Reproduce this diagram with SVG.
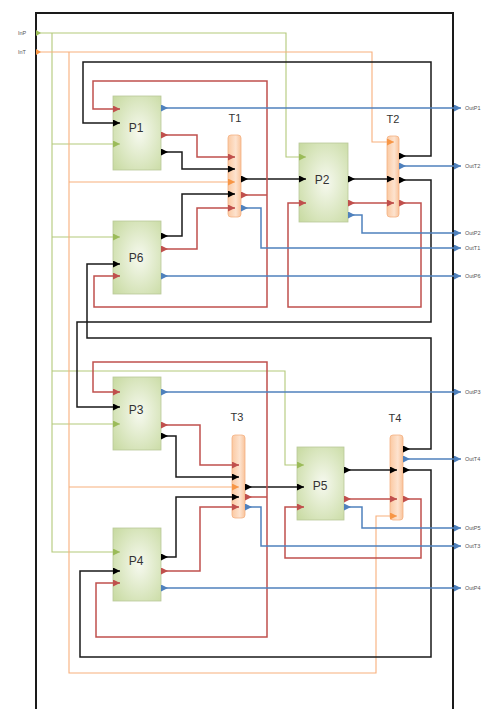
<svg xmlns="http://www.w3.org/2000/svg" width="485" height="709" viewBox="0 0 485 709">
<style>
.ln{fill:none;stroke-width:1.5}
.k{stroke:#1a1a1a}
.r{stroke:#c0504d}
.b{stroke:#4f81bd}
.g{stroke:#b3c97a;stroke-width:1.1}
.o{stroke:#f8b07c;stroke-width:1.1}
.box{fill:url(#pg);stroke:#b9c99a;stroke-width:0.8}
.bar{fill:url(#tg);stroke:#f4b183;stroke-width:0.8}
.lbl{font-family:"Liberation Sans",Arial,sans-serif;font-size:12px;fill:#333;text-anchor:middle}
.tl{font-family:"Liberation Sans",Arial,sans-serif;font-size:11px;fill:#333;text-anchor:middle}
.io{font-family:"Liberation Sans",Arial,sans-serif;font-size:5.5px;fill:#555}
</style>
<defs>
<radialGradient id="pg" cx="0.55" cy="0.5" r="0.75">
<stop offset="0" stop-color="#f6f9ef"/>
<stop offset="1" stop-color="#c6d99e"/>
</radialGradient>
<linearGradient id="tg" x1="0" y1="0" x2="1" y2="0">
<stop offset="0" stop-color="#fbc9a2"/>
<stop offset="0.6" stop-color="#fde3cf"/>
<stop offset="1" stop-color="#f9c39a"/>
</linearGradient>
<marker id="ek" markerUnits="userSpaceOnUse" markerWidth="8" markerHeight="8" refX="7" refY="3.5" orient="auto"><path d="M0,0L7,3.5L0,7z" fill="#000"/></marker>
<marker id="sk" markerUnits="userSpaceOnUse" markerWidth="8" markerHeight="8" refX="0" refY="3.5" orient="auto"><path d="M0,0L7,3.5L0,7z" fill="#000"/></marker>
<marker id="er" markerUnits="userSpaceOnUse" markerWidth="8" markerHeight="8" refX="7" refY="3.5" orient="auto"><path d="M0,0L7,3.5L0,7z" fill="#c0504d"/></marker>
<marker id="sr" markerUnits="userSpaceOnUse" markerWidth="8" markerHeight="8" refX="0" refY="3.5" orient="auto"><path d="M0,0L7,3.5L0,7z" fill="#c0504d"/></marker>
<marker id="eb" markerUnits="userSpaceOnUse" markerWidth="8" markerHeight="8" refX="7" refY="3.5" orient="auto"><path d="M0,0L7,3.5L0,7z" fill="#4f81bd"/></marker>
<marker id="sb" markerUnits="userSpaceOnUse" markerWidth="8" markerHeight="8" refX="0" refY="3.5" orient="auto"><path d="M0,0L7,3.5L0,7z" fill="#4f81bd"/></marker>
<marker id="eg" markerUnits="userSpaceOnUse" markerWidth="8" markerHeight="8" refX="7" refY="3.5" orient="auto"><path d="M0,0L7,3.5L0,7z" fill="#9bbb59"/></marker>
<marker id="sg" markerUnits="userSpaceOnUse" markerWidth="6" markerHeight="6" refX="0" refY="3" orient="auto"><path d="M0,0L5,3L0,6z" fill="#9bbb59"/></marker>
<marker id="eo" markerUnits="userSpaceOnUse" markerWidth="8" markerHeight="8" refX="7" refY="3.5" orient="auto"><path d="M0,0L7,3.5L0,7z" fill="#f79646"/></marker>
<marker id="so" markerUnits="userSpaceOnUse" markerWidth="6" markerHeight="6" refX="0" refY="3" orient="auto"><path d="M0,0L5,3L0,6z" fill="#f79646"/></marker>
</defs>
<rect x="0" y="0" width="485" height="709" fill="#fff"/>
<rect id="frame" x="36" y="13" width="417" height="720" fill="none" stroke="#1a1a1a" stroke-width="2"/>

<g id="P1"><rect class="box" x="113" y="96" width="48" height="74"/><text class="lbl" x="136" y="132">P1</text></g>
<g id="P6"><rect class="box" x="113" y="221" width="48" height="73"/><text class="lbl" x="136" y="262">P6</text></g>
<g id="P2"><rect class="box" x="299" y="143" width="49" height="79"/><text class="lbl" x="322" y="184">P2</text></g>
<g id="P3"><rect class="box" x="113" y="377" width="48" height="73"/><text class="lbl" x="136" y="414">P3</text></g>
<g id="P4"><rect class="box" x="113" y="528" width="48" height="73"/><text class="lbl" x="136" y="565">P4</text></g>
<g id="P5"><rect class="box" x="297" y="447" width="47" height="73"/><text class="lbl" x="320" y="490">P5</text></g>
<g id="T1"><rect class="bar" x="228" y="135" width="13" height="82" rx="3"/><text class="tl" x="235" y="122">T1</text></g>
<g id="T2"><rect class="bar" x="387" y="136" width="12" height="81" rx="3"/><text class="tl" x="393" y="123">T2</text></g>
<g id="T3"><rect class="bar" x="232" y="435" width="13" height="83" rx="3"/><text class="tl" x="237" y="421">T3</text></g>
<g id="T4"><rect class="bar" x="390" y="435" width="13" height="85" rx="3"/><text class="tl" x="395" y="422">T4</text></g>

<g id="connectors">
<!-- green -->
<path class="ln g" d="M36,33H286V157H306" marker-start="url(#sg)" marker-end="url(#eg)"/>
<path class="ln g" d="M52,33V552H120" marker-end="url(#eg)"/>
<path class="ln g" d="M52,144H120" marker-end="url(#eg)"/>
<path class="ln g" d="M52,237H120" marker-end="url(#eg)"/>
<path class="ln g" d="M52,424H120" marker-end="url(#eg)"/>
<path class="ln g" d="M52,371H285V465H304" marker-end="url(#eg)"/>
<!-- orange -->
<path class="ln o" d="M36,52H372V142H394" marker-start="url(#so)" marker-end="url(#eo)"/>
<path class="ln o" d="M69,52V673H376V516H397" marker-end="url(#eo)"/>
<path class="ln o" d="M69,182H235" marker-end="url(#eo)"/>
<path class="ln o" d="M69,487H239" marker-end="url(#eo)"/>
<!-- black -->
<path class="ln k" d="M399,156H431V62H83V123H120" marker-start="url(#sk)" marker-end="url(#ek)"/>
<path class="ln k" d="M399,180H431V322H77V407H120" marker-start="url(#sk)" marker-end="url(#ek)"/>
<path class="ln k" d="M403,449H431V338H87V264H120" marker-start="url(#sk)" marker-end="url(#ek)"/>
<path class="ln k" d="M403,470H431V657H80V571H120" marker-start="url(#sk)" marker-end="url(#ek)"/>
<path class="ln k" d="M161,152H182V169H235" marker-start="url(#sk)" marker-end="url(#ek)"/>
<path class="ln k" d="M161,236H182V194H235" marker-start="url(#sk)" marker-end="url(#ek)"/>
<path class="ln k" d="M241,179H306" marker-start="url(#sk)" marker-end="url(#ek)"/>
<path class="ln k" d="M348,179H394" marker-start="url(#sk)" marker-end="url(#ek)"/>
<path class="ln k" d="M161,436H176V477H239" marker-start="url(#sk)" marker-end="url(#ek)"/>
<path class="ln k" d="M161,557H176V497H239" marker-start="url(#sk)" marker-end="url(#ek)"/>
<path class="ln k" d="M245,487H304" marker-start="url(#sk)" marker-end="url(#ek)"/>
<path class="ln k" d="M344,470H397" marker-start="url(#sk)" marker-end="url(#ek)"/>
<!-- red -->
<path class="ln r" d="M241,195H267" marker-start="url(#sr)"/>
<path class="ln r" d="M267,195V81H93V109H120" marker-end="url(#er)"/>
<path class="ln r" d="M267,195V307H94V276H120" marker-end="url(#er)"/>
<path class="ln r" d="M161,135H197V157H235" marker-start="url(#sr)" marker-end="url(#er)"/>
<path class="ln r" d="M161,249H197V208H235" marker-start="url(#sr)" marker-end="url(#er)"/>
<path class="ln r" d="M399,203H421V307H288V203H306" marker-start="url(#sr)" marker-end="url(#er)"/>
<path class="ln r" d="M348,203H394" marker-start="url(#sr)" marker-end="url(#er)"/>
<path class="ln r" d="M245,497H267" marker-start="url(#sr)"/>
<path class="ln r" d="M267,497V362H93V392H120" marker-end="url(#er)"/>
<path class="ln r" d="M267,497V637H96V583H120" marker-end="url(#er)"/>
<path class="ln r" d="M161,425H200V465H239" marker-start="url(#sr)" marker-end="url(#er)"/>
<path class="ln r" d="M161,571H200V507H239" marker-start="url(#sr)" marker-end="url(#er)"/>
<path class="ln r" d="M403,499H421V558H285V507H304" marker-start="url(#sr)" marker-end="url(#er)"/>
<path class="ln r" d="M344,499H397" marker-start="url(#sr)" marker-end="url(#er)"/>
<!-- blue -->
<path class="ln b" d="M161,108H461" marker-start="url(#sb)" marker-end="url(#eb)"/>
<path class="ln b" d="M399,166H461" marker-start="url(#sb)" marker-end="url(#eb)"/>
<path class="ln b" d="M348,215H362V233H461" marker-start="url(#sb)" marker-end="url(#eb)"/>
<path class="ln b" d="M241,208H261V248H461" marker-start="url(#sb)" marker-end="url(#eb)"/>
<path class="ln b" d="M161,276H461" marker-start="url(#sb)" marker-end="url(#eb)"/>
<path class="ln b" d="M161,392H461" marker-start="url(#sb)" marker-end="url(#eb)"/>
<path class="ln b" d="M403,459H461" marker-start="url(#sb)" marker-end="url(#eb)"/>
<path class="ln b" d="M344,507H362V528H461" marker-start="url(#sb)" marker-end="url(#eb)"/>
<path class="ln b" d="M245,507H261V546H461" marker-start="url(#sb)" marker-end="url(#eb)"/>
<path class="ln b" d="M161,588H461" marker-start="url(#sb)" marker-end="url(#eb)"/>
</g>

<g id="labels">
<text class="io" x="18" y="35">InP</text>
<text class="io" x="18" y="54">InT</text>
<text class="io" x="465" y="110">OutP1</text>
<text class="io" x="465" y="168">OutT2</text>
<text class="io" x="465" y="235">OutP2</text>
<text class="io" x="465" y="250">OutT1</text>
<text class="io" x="465" y="278">OutP6</text>
<text class="io" x="465" y="394">OutP3</text>
<text class="io" x="465" y="461">OutT4</text>
<text class="io" x="465" y="530">OutP5</text>
<text class="io" x="465" y="548">OutT3</text>
<text class="io" x="465" y="590">OutP4</text>
</g>
</svg>
